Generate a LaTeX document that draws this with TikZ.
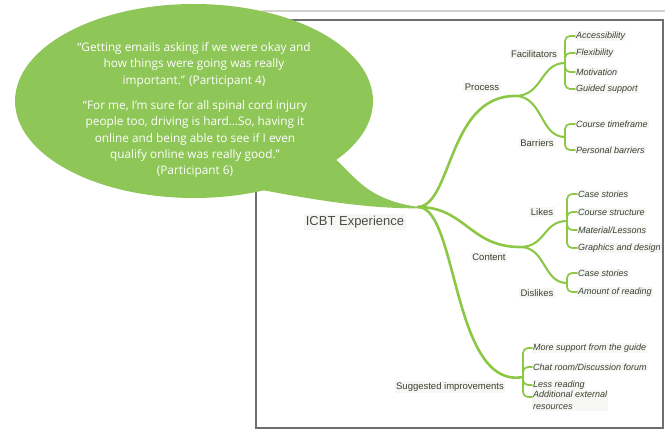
\documentclass[tikz,border=0pt]{standalone}
\usepackage{fontspec}
\setmainfont{Liberation Sans}
\newfontfamily\quotefont{Open Sans}
\usetikzlibrary{calc}
\definecolor{leafgreen}{RGB}{143,198,88}
\definecolor{twig}{RGB}{140,200,70}
\definecolor{ink}{RGB}{58,66,48}
\definecolor{rootink}{RGB}{72,76,70}
\definecolor{framegray}{RGB}{110,110,110}
\definecolor{labelbg}{RGB}{246,246,244}
\begin{document}
\begin{tikzpicture}[x=1pt,y=-1pt,
  branch/.style={draw=twig, line width=2.6pt, line cap=round},
  subbranch/.style={draw=twig, line width=2.1pt, line cap=round},
  twigline/.style={draw=twig, line width=1.7pt, line cap=round, rounded corners=5pt},
  cat/.style={font=\fontsize{9.5}{11}\selectfont, text=ink, fill=labelbg, inner sep=1.5pt},
  leaf/.style={font=\fontsize{9}{12}\selectfont\itshape, text=ink, anchor=west, fill=labelbg, inner sep=1pt},
  quote/.style={font=\quotefont\fontsize{11.8}{16.4}\selectfont, text=white, align=center, inner sep=0pt}]
\useasboundingbox (0,0) rectangle (665,430);

% faint rule above the frame and the frame itself
\draw[black!18, line width=1.4pt] (262,11) -- (665,11);
\draw[framegray, line width=1.2pt] (256,20) rectangle (663,428);

% speech bubble
\fill[leafgreen] (194,101) ellipse [x radius=179, y radius=97];
\fill[leafgreen] (334,158) .. controls (356,176) and (366,202) .. (427,208)
  .. controls (378,210) and (320,201) .. (262,190) -- cycle;
\node[quote, anchor=north] (q1) at (194,42)
  {“Getting emails asking if we were okay and\\how things were going was really\\important.” (Participant 4)};
\node[quote, anchor=north] (q2) at (195,100)
  {“For me, I’m sure for all spinal cord injury\\people too, driving is hard…So, having it\\online and being able to see if I even\\qualify online was really good.”\\(Participant 6)};

% branch points
\coordinate (R) at (418,207);
\coordinate (P) at (515,96);
\coordinate (F) at (565,63);
\coordinate (B) at (565,137);
\coordinate (C) at (520,247);
\coordinate (L) at (567,221);
\coordinate (D) at (567,283);
\coordinate (S) at (523,377);

% main branches
\draw[branch] (R) .. controls (452,205) and (448,96) .. (P);
\draw[branch] (R) .. controls (465,207) and (470,247) .. (C);
\draw[branch] (R) .. controls (458,207) and (452,390) .. (S);

% secondary branches
\draw[subbranch] (P) .. controls +(28,0) and +(-25,0) .. (F);
\draw[subbranch] (P) .. controls +(28,0) and +(-25,0) .. (B);
\draw[subbranch] (C) .. controls +(26,0) and +(-24,0) .. (L);
\draw[subbranch] (C) .. controls +(26,0) and +(-24,0) .. (D);

% labels
\node[font=\fontsize{13}{15}\selectfont, text=rootink, fill=labelbg, inner sep=2pt] (root) at (355,222) {ICBT Experience};
\node[cat] (process) at (482,87) {Process};
\node[cat] (facil) at (534,54) {Facilitators};
\node[cat] (barr) at (537,143) {Barriers};
\node[cat] (content) at (489,257) {Content};
\node[cat] (likes) at (542,212) {Likes};
\node[cat] (dislikes) at (537,293) {Dislikes};
\node[cat] (sugg) at (450,387) {Suggested improvements};

% leaves
\node[leaf] (F1) at (575,36) {Accessibility};
\node[leaf] (F2) at (575,53) {Flexibility};
\node[leaf] (F3) at (575,72) {Motivation};
\node[leaf] (F4) at (575,89) {Guided support};
\node[leaf] (B1) at (575,124) {Course timeframe};
\node[leaf] (B2) at (575,150) {Personal barriers};
\node[leaf] (L1) at (577,194) {Case stories};
\node[leaf] (L2) at (577,212) {Course structure};
\node[leaf] (L3) at (577,230) {Material/Lessons};
\node[leaf] (L4) at (577,248) {Graphics and design};
\node[leaf] (D1) at (577,273) {Case stories};
\node[leaf] (D2) at (577,292) {Amount of reading};
\node[leaf] (S1) at (532,348) {More support from the guide};
\node[leaf] (S2) at (532,367) {Chat room/Discussion forum};
\node[leaf] (S3) at (532,385) {Less reading};
\node[leaf, anchor=north west, align=left] (S4) at (532,390) {Additional external\\resources};

% leaf brackets
\foreach \n in {F1,F2,F3,F4} \draw[twigline] (F) |- (\n.west);
\foreach \n in {B1,B2} \draw[twigline] (B) |- (\n.west);
\foreach \n in {L1,L2,L3,L4} \draw[twigline] (L) |- (\n.west);
\foreach \n in {D1,D2} \draw[twigline] (D) |- (\n.west);
\foreach \n in {S1,S2,S3} \draw[twigline] (S) |- (\n.west);
\draw[twigline] (S) |- ($(S4.north west)+(0,7)$);
\end{tikzpicture}
\end{document}
